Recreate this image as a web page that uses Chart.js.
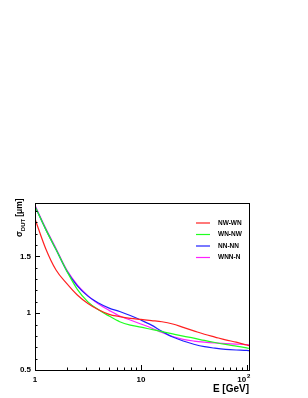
<!DOCTYPE html>
<html>
<head>
<meta charset="utf-8">
<script src="https://cdn.jsdelivr.net/npm/chart.js@4.4.0/dist/chart.umd.min.js"></script>
<style>
  body { margin: 0; background: #fff; }
  #wrap { width: 308px; height: 398px; }
</style>
</head>
<body>
<div id="wrap"><canvas id="sigmaChart" width="308" height="398"></canvas></div>
<script>
const energies = [1, 1.26, 1.58, 2, 2.51, 3.16, 3.98, 5.01, 6.31, 7.94, 10, 12.6, 15.8, 20, 25.1, 31.6, 39.8, 50.1, 63.1, 79.4, 100, 105];

const nwWn = [1.83, 1.57, 1.38, 1.26, 1.16, 1.085, 1.03, 0.99, 0.97, 0.955, 0.945, 0.935, 0.925, 0.905, 0.875, 0.845, 0.815, 0.79, 0.765, 0.745, 0.72, 0.715];
const wnNw = [1.94, 1.74, 1.56, 1.37, 1.21, 1.10, 1.03, 0.975, 0.925, 0.895, 0.877, 0.857, 0.838, 0.818, 0.798, 0.78, 0.76, 0.742, 0.725, 0.71, 0.695, 0.69];
const nnNn = [1.94, 1.74, 1.56, 1.37, 1.24, 1.15, 1.09, 1.045, 1.015, 0.98, 0.94, 0.895, 0.84, 0.79, 0.755, 0.727, 0.705, 0.692, 0.682, 0.676, 0.672, 0.67];
const wnnN = [1.95, 1.75, 1.57, 1.38, 1.25, 1.155, 1.08, 1.025, 0.975, 0.94, 0.905, 0.87, 0.83, 0.795, 0.77, 0.755, 0.745, 0.738, 0.733, 0.728, 0.723, 0.72];

const seriesNames = ['NW-WN', 'WN-NW', 'NN-NN', 'WNN-N'];
const seriesColors = ['#ff2020', '#20ff20', '#2020ff', '#ff20ff'];

const yTicks = [0.5, 1, 1.5];
const xTicks = [1, 10, 100];

const toPoints = vals => vals.map((v, i) => ({ x: energies[i], y: v }));

const framePlugin = {
  id: 'frame',
  afterDraw(chart) {
    const ctx = chart.ctx;
    const a = chart.chartArea;
    const xs = chart.scales.x;
    const ys = chart.scales.y;
    ctx.save();
    ctx.strokeStyle = '#000';
    ctx.lineWidth = 1;
    ctx.strokeRect(a.left + 0.5, a.top + 0.5, a.right - a.left, a.bottom - a.top);

    // y ticks (inside)
    ctx.beginPath();
    for (let v = 0.5; v <= 1.95; v += 0.1) {
      const y = Math.round(ys.getPixelForValue(v)) + 0.5;
      const major = Math.abs(v * 2 - Math.round(v * 2)) < 1e-6;
      ctx.moveTo(a.left, y);
      ctx.lineTo(a.left + (major ? 5 : 2.5), y);
    }
    // x ticks (inside)
    for (let d = 1; d <= 100; d *= 10) {
      for (let m = 1; m < 10; m++) {
        const v = d * m;
        if (v > 105) break;
        const x = Math.round(xs.getPixelForValue(v)) + 0.5;
        ctx.moveTo(x, a.bottom);
        ctx.lineTo(x, a.bottom - (m === 1 ? 5 : 2.5));
      }
    }
    ctx.stroke();

    ctx.fillStyle = '#000';
    ctx.font = 'bold 8px "Liberation Sans", Arial, sans-serif';
    ctx.textAlign = 'right';
    ctx.textBaseline = 'middle';
    yTicks.forEach(v => {
      ctx.fillText(String(v), a.left - 4, ys.getPixelForValue(v));
    });

    ctx.textAlign = 'center';
    ctx.textBaseline = 'top';
    xTicks.forEach(v => {
      const x = xs.getPixelForValue(v);
      if (v === 100) {
        ctx.fillText('10', x - 5, a.bottom + 6);
        ctx.font = 'bold 6px "Liberation Sans", Arial, sans-serif';
        ctx.fillText('2', x + 2, a.bottom + 3);
        ctx.font = 'bold 8px "Liberation Sans", Arial, sans-serif';
      } else {
        ctx.fillText(String(v), x, a.bottom + 6);
      }
    });

    // axis titles
    ctx.font = 'bold 10px "Liberation Sans", Arial, sans-serif';
    ctx.textAlign = 'right';
    ctx.textBaseline = 'alphabetic';
    ctx.fillText('E [GeV]', a.right, a.bottom + 22);

    ctx.translate(a.left - 13, a.top);
    ctx.rotate(-Math.PI / 2);
    ctx.textAlign = 'left';
    let tx = -34;
    ctx.font = 'bold 8.5px "Liberation Sans", Arial, sans-serif';
    ctx.fillText('σ', tx, 0);
    tx += ctx.measureText('σ').width;
    ctx.font = 'bold 6px "Liberation Sans", Arial, sans-serif';
    ctx.fillText('DUT', tx, 2.5);
    tx += ctx.measureText('DUT').width + 2;
    ctx.font = 'bold 8.5px "Liberation Sans", Arial, sans-serif';
    ctx.fillText('[μm]', tx, 0);
    ctx.restore();

    // legend
    ctx.save();
    ctx.font = 'bold 6.5px "Liberation Sans", Arial, sans-serif';
    ctx.textBaseline = 'middle';
    seriesNames.forEach((name, i) => {
      const y = 223 + i * 11.5;
      ctx.strokeStyle = seriesColors[i];
      ctx.lineWidth = 1.2;
      ctx.beginPath();
      ctx.moveTo(196, y);
      ctx.lineTo(210, y);
      ctx.stroke();
      ctx.fillStyle = '#000';
      ctx.fillText(name, 218, y);
    });
    ctx.restore();
  }
};

const datasets = [nwWn, wnNw, nnNn, wnnN].map((vals, i) => ({
  label: seriesNames[i],
  data: toPoints(vals),
  borderColor: seriesColors[i],
  borderWidth: 1.2,
  pointRadius: 0,
  fill: false,
  cubicInterpolationMode: 'monotone'
}));

new Chart(document.getElementById('sigmaChart').getContext('2d'), {
  type: 'line',
  data: { datasets: datasets },
  options: {
    responsive: false,
    animation: false,
    layout: { padding: { left: 35, right: 59, top: 203, bottom: 28 } },
    plugins: { legend: { display: false }, tooltip: { enabled: false } },
    scales: {
      x: { type: 'logarithmic', min: 1, max: 105, display: false },
      y: { type: 'linear', min: 0.5, max: 1.97, display: false }
    }
  },
  plugins: [framePlugin]
});
</script>
</body>
</html>
